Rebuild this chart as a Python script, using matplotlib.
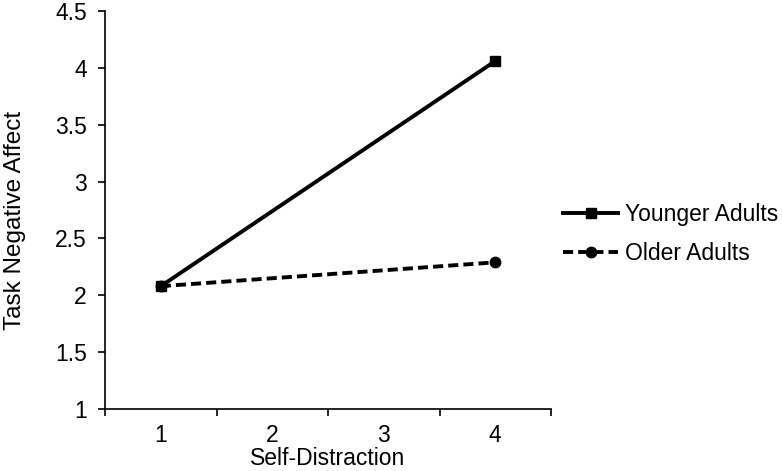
import matplotlib.pyplot as plt
import numpy as np

plt.rcParams['font.family'] = ['Liberation Sans', 'DejaVu Sans']

categories = ['1', '2', '3', '4']
younger = [2.08, np.nan, np.nan, 4.06]
older = [2.08, np.nan, np.nan, 2.29]
yticks = [1, 1.5, 2, 2.5, 3, 3.5, 4, 4.5]

fig = plt.figure(figsize=(7.82, 4.71), dpi=100)
ax = fig.add_axes([0.1343, 0.1316, 0.5703, 0.845])

pos = np.arange(1, len(categories) + 1)
# connect the endpoints only (values at 2 and 3 are absent)
m = ~np.isnan(younger)
ax.plot(pos[m], np.array(younger)[m], color='black', lw=2.8, marker='s', ms=7.5,
        label='Younger Adults')
m = ~np.isnan(older)
ax.plot(pos[m], np.array(older)[m], color='black', lw=2.8, ls=(0, (2.6, 1.3)), marker='o', ms=7.5,
        label='Older Adults')

ax.set_xlim(0.5, 4.5)
ax.set_ylim(1, 4.5)
ax.set_xticks(pos)
ax.set_xticklabels(categories)
ax.set_xticks(np.arange(0.5, 4.6, 1), minor=True)
ax.tick_params(axis='x', which='major', length=0, pad=11)
ax.tick_params(axis='x', which='minor', length=5, width=1.2, direction='out')
ax.set_yticks(yticks)
ax.set_yticklabels([('%g' % v) for v in yticks])
ax.tick_params(axis='y', length=5, width=1.2, direction='out', pad=8)
ax.tick_params(labelsize=16.5)

for s in ['top', 'right']:
    ax.spines[s].set_visible(False)
for s in ['left', 'bottom']:
    ax.spines[s].set_linewidth(1.2)

ax.set_xlabel('Self-Distraction', fontsize=16.5, labelpad=0)
ax.set_ylabel('Task Negative Affect', fontsize=17.5)
ax.yaxis.set_label_coords(-0.178, 0.475)

ax.legend(loc='center left', bbox_to_anchor=(1.027, 0.44), frameon=False, fontsize=16.5,
          handlelength=2.4, labelspacing=0.7, handletextpad=0.3,
          borderaxespad=0, borderpad=0)

fig.savefig('out.png', dpi=100)
